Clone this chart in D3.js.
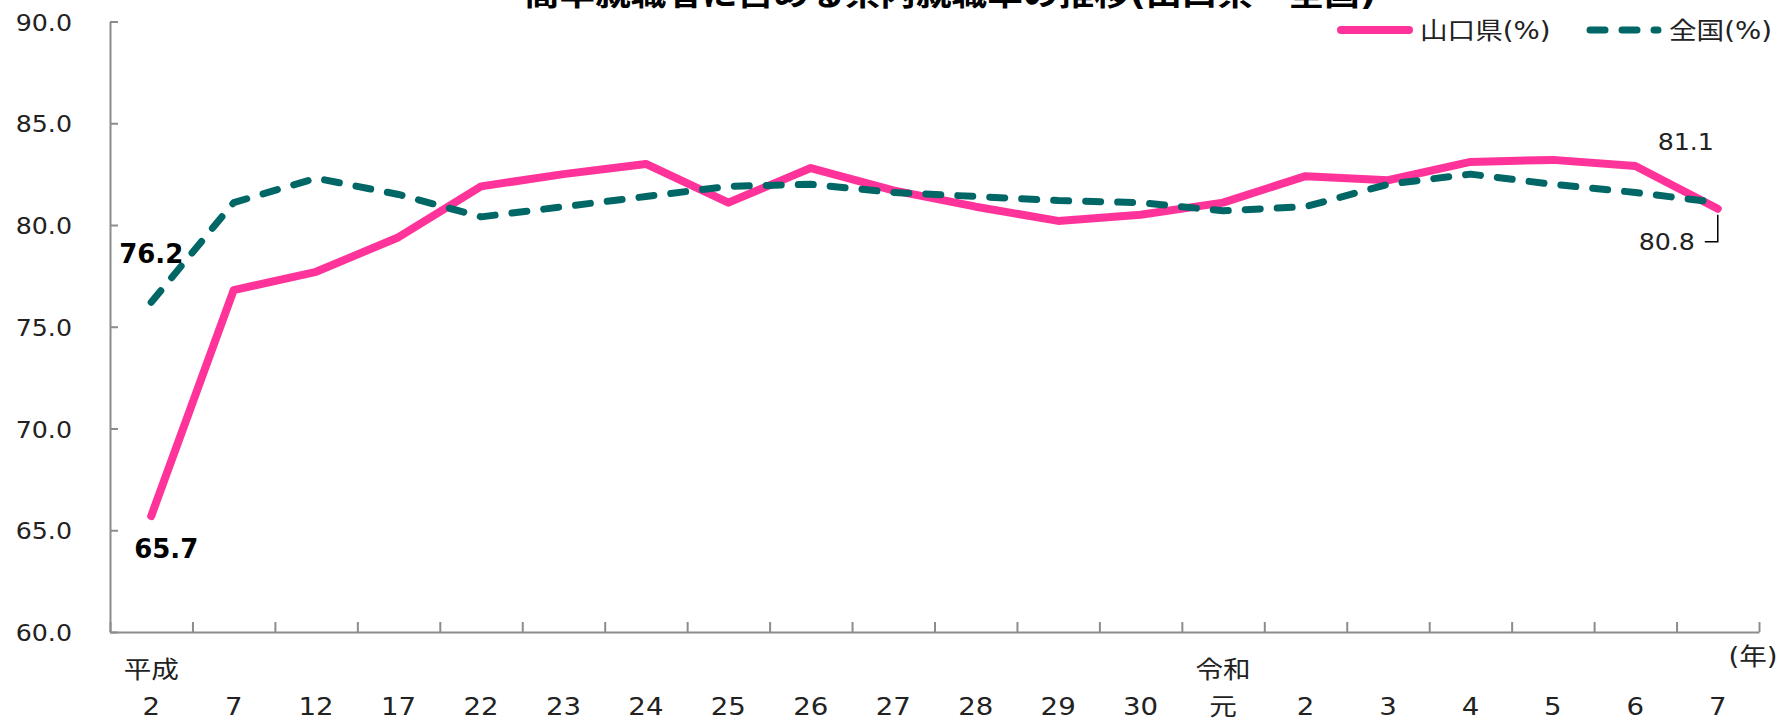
<!DOCTYPE html>
<html lang="ja">
<head>
<meta charset="utf-8">
<script src="https://cdn.jsdelivr.net/npm/d3@7"></script>
<style>
  html, body { margin: 0; padding: 0; background: #fff; overflow: hidden; }
  svg { display: block; font-family: 'DejaVu Sans', 'Noto Sans CJK JP', sans-serif; }
</style>
</head>
<body>
<div id="chart"></div>
<script>
// Data
const title = '高卒就職者に占める県内就職率の推移(山口県・全国)';
const years = ['2', '7', '12', '17', '22', '23', '24', '25', '26', '27', '28', '29', '30', '元', '2', '3', '4', '5', '6', '7'];
const eras = ['平成', '', '', '', '', '', '', '', '', '', '', '', '', '令和', '', '', '', '', '', ''];
const yamaguchi = [65.7, 76.8, 77.7, 79.4, 81.9, 82.5, 83.0, 81.1, 82.8, 81.7, 80.9, 80.2, 80.5, 81.1, 82.4, 82.2, 83.1, 83.2, 82.9, 80.8];
const national = [76.2, 81.1, 82.3, 81.5, 80.4, 80.9, 81.4, 81.9, 82.0, 81.6, 81.4, 81.2, 81.1, 80.7, 80.9, 82.0, 82.5, 82.0, 81.6, 81.1];
const yTicks = [60, 65, 70, 75, 80, 85, 90];
const seriesNames = ['山口県(%)', '全国(%)'];
const unitLabel = '(年)';

// Configuration
const CHART_CONFIG = {
  width: 1779,
  height: 719,
  plot: { left: 110, right: 1759, top: 21.5, bottom: 632 },
  colors: { yamaguchi: '#ff3399', national: '#006666', axis: '#8c8c8c', text: '#222' },
  stretch: 1.15,
  dash: '15,17'
};

// text in the original is a little wider than tall
function place(sel, x, y, sx = CHART_CONFIG.stretch) {
  return sel.attr('transform', `translate(${x},${y}) scale(${sx},1)`);
}

function drawChart() {
  const P = CHART_CONFIG.plot;

  const svg = d3.select('#chart').append('svg')
    .attr('width', CHART_CONFIG.width)
    .attr('height', CHART_CONFIG.height)
    .attr('viewBox', [0, 0, CHART_CONFIG.width, CHART_CONFIG.height]);

  // Scales
  const x = d3.scaleBand()
    .domain(d3.range(years.length))
    .range([P.left, P.right])
    .padding(0);
  const cx = i => x(i) + x.bandwidth() / 2;

  const xTick = d3.scaleLinear()
    .domain([0, years.length])
    .range([P.left, P.right]);

  const y = d3.scaleLinear()
    .domain([60, 90])
    .range([P.bottom, P.top]);

  // Title (cut off by the top edge, as in the source)
  place(svg.append('text'), 950, 5)
    .attr('text-anchor', 'middle')
    .attr('font-size', 31)
    .attr('font-weight', 'bold')
    .attr('fill', '#000')
    .text(title);

  // Y axis
  const yAxis = svg.append('g')
    .attr('transform', `translate(${P.left},0)`)
    .call(d3.axisLeft(y).tickValues(yTicks).tickSize(-8).tickSizeOuter(0).tickPadding(0).tickFormat(d3.format('.1f')))
    .attr('font-family', null)
    .attr('font-size', null);

  yAxis.select('.domain').attr('stroke', CHART_CONFIG.colors.axis).attr('stroke-width', 2);
  yAxis.selectAll('.tick line').attr('stroke', CHART_CONFIG.colors.axis).attr('stroke-width', 2);
  yAxis.selectAll('.tick text')
    .attr('x', null)
    .attr('dy', null)
    .attr('transform', 'translate(-38,8.5) scale(1.1,1)')
    .attr('font-size', 23)
    .attr('fill', CHART_CONFIG.colors.text);

  // X axis: tick marks sit between the categories
  const xAxis = svg.append('g')
    .attr('transform', `translate(0,${P.bottom})`)
    .call(d3.axisBottom(xTick).tickValues(d3.range(years.length + 1)).tickSize(-10).tickSizeOuter(0).tickFormat(''));

  xAxis.select('.domain').attr('stroke', CHART_CONFIG.colors.axis).attr('stroke-width', 2);
  xAxis.selectAll('.tick line').attr('stroke', CHART_CONFIG.colors.axis).attr('stroke-width', 2);

  const xLabels = svg.append('g')
    .attr('font-size', 24)
    .attr('fill', CHART_CONFIG.colors.text)
    .attr('text-anchor', 'middle');

  years.forEach((d, i) => {
    place(xLabels.append('text'), cx(i), 715).text(d);
    if (eras[i]) place(xLabels.append('text'), cx(i), 678).text(eras[i]);
  });

  place(xLabels.append('text'), 1753, 665).text(unitLabel);

  // Lines
  const line = d3.line()
    .x((d, i) => cx(i))
    .y(d => y(d));

  svg.append('path')
    .datum(yamaguchi)
    .attr('d', line)
    .attr('fill', 'none')
    .attr('stroke', CHART_CONFIG.colors.yamaguchi)
    .attr('stroke-width', 8)
    .attr('stroke-linejoin', 'round')
    .attr('stroke-linecap', 'round');

  svg.append('path')
    .datum(national)
    .attr('d', line)
    .attr('fill', 'none')
    .attr('stroke', CHART_CONFIG.colors.national)
    .attr('stroke-width', 7)
    .attr('stroke-dasharray', CHART_CONFIG.dash)
    .attr('stroke-linejoin', 'round')
    .attr('stroke-linecap', 'round');

  // Data labels at both ends
  const fmt = d3.format('.1f');
  const endLabels = [
    { series: yamaguchi, idx: 0, dx: 15, dy: 42, bold: true },
    { series: national, idx: 0, dx: 0, dy: -39, bold: true },
    { series: national, idx: years.length - 1, dx: -32, dy: -53, bold: false },
    { series: yamaguchi, idx: years.length - 1, dx: -51, dy: 41, bold: false }
  ];

  endLabels.forEach(l => {
    const px = cx(l.idx);
    const py = y(l.series[l.idx]);
    const t = svg.append('text')
      .attr('text-anchor', 'middle')
      .attr('fill', l.bold ? '#000' : CHART_CONFIG.colors.text)
      .text(fmt(l.series[l.idx]));
    if (l.bold) {
      t.attr('x', px + l.dx).attr('y', py + l.dy)
        .attr('font-size', 26)
        .attr('font-weight', 'bold');
    } else {
      place(t, px + l.dx, py + l.dy, 1.1).attr('font-size', 23);
    }
  });

  // leader line for the last Yamaguchi value
  const lastX = cx(years.length - 1);
  const lastY = y(yamaguchi[years.length - 1]);
  svg.append('path')
    .attr('d', d3.line()([[lastX, lastY + 6], [lastX, lastY + 33], [lastX - 13, lastY + 33]]))
    .attr('fill', 'none')
    .attr('stroke', '#000')
    .attr('stroke-width', 1.5);

  // Legend
  const legendItems = [
    { name: seriesNames[0], color: CHART_CONFIG.colors.yamaguchi, width: 8, dash: null, x: 0 },
    { name: seriesNames[1], color: CHART_CONFIG.colors.national, width: 7, dash: CHART_CONFIG.dash, x: 249 }
  ];

  const legend = svg.append('g')
    .attr('transform', 'translate(1337,30)');

  const item = legend.selectAll('.legend-item')
    .data(legendItems)
    .join('g')
    .attr('class', 'legend-item')
    .attr('transform', d => `translate(${d.x},0)`);

  item.append('line')
    .attr('x1', 4)
    .attr('x2', 72)
    .attr('stroke', d => d.color)
    .attr('stroke-width', d => d.width)
    .attr('stroke-dasharray', d => d.dash)
    .attr('stroke-linecap', 'round');

  item.append('text')
    .attr('transform', `translate(83,9) scale(${CHART_CONFIG.stretch},1)`)
    .attr('font-size', 24)
    .attr('fill', CHART_CONFIG.colors.text)
    .text(d => d.name);
}

drawChart();
</script>
</body>
</html>
